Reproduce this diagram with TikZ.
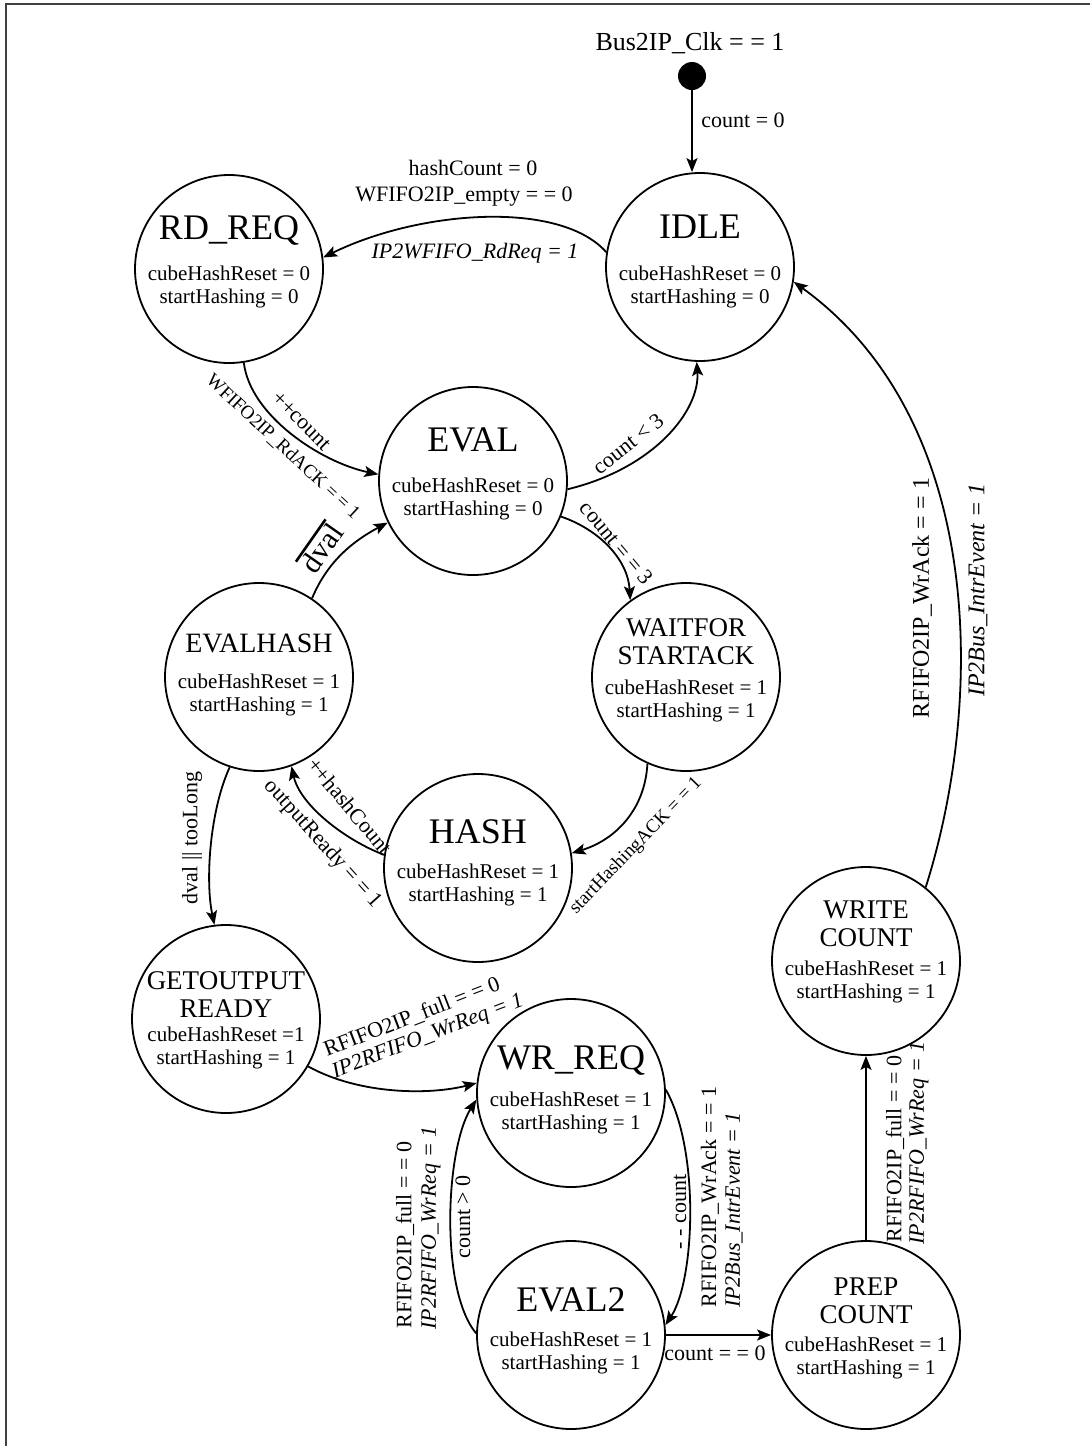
\documentclass[tikz,border=0pt]{standalone}
\usepackage{fontspec}
\setmainfont{Liberation Serif}
\usetikzlibrary{arrows.meta}
\newcommand\fsz[2]{\fontsize{#1pt}{#2pt}\selectfont}
\newcommand\thickbar[1]{\vbox{\hrule height 2.6pt\kern 1.5pt\hbox{#1}}}
\tikzset{
  state/.style={circle, draw, line width=1.8pt, minimum size=188pt, inner sep=0pt},
  nm/.style={font=\fsz{36}{40}, inner sep=0pt},
  nmtwo/.style={font=\fsz{27}{28}, align=center, inner sep=0pt},
  body/.style={font=\fsz{21}{23}, align=center, inner sep=0pt},
  lab/.style={font=\fsz{22}{24}, inner sep=0pt},
  ilab/.style={font=\fsz{22}{24}\itshape, inner sep=0pt},
  conn/.style={line width=1.8pt, -{Stealth[length=14pt,width=11pt,inset=3pt]}},
}
\begin{document}
\begin{tikzpicture}[x=1pt,y=-1pt]
\useasboundingbox (0,0) rectangle (1090,1446);
\fill[white] (0,0) rectangle (1090,1446);
\draw[line width=2.5pt, black!75] (6,1446) -- (6,4) -- (1090,4);

% initial
\node[font=\fsz{26}{28}, inner sep=0pt] (clk) at (690,43) {Bus2IP\_Clk = = 1};
\node[circle, fill=black, minimum size=28pt, inner sep=0pt] (dot) at (692,76) {};

% states
\node[state] (idle) at (700,267) {};
\node[nm] (idle-n) at (700,227) {IDLE};
\node[body] (idle-b) at (700,287) {cubeHashReset = 0\\startHashing = 0};

\node[state] (rdreq) at (229,269) {};
\node[nm] (rdreq-n) at (229,230) {RD\_REQ};
\node[body] (rdreq-b) at (229,287) {cubeHashReset = 0\\startHashing = 0};

\node[state] (eval) at (473,481) {};
\node[nm] (eval-n) at (473,440) {EVAL};
\node[body] (eval-b) at (473,499) {cubeHashReset = 0\\startHashing = 0};

\node[state] (evalhash) at (259,677) {};
\node[font=\fsz{28}{30}, inner sep=0pt] (evalhash-n) at (259,643) {EVALHASH};
\node[body] (evalhash-b) at (259,695) {cubeHashReset = 1\\startHashing = 1};

\node[state] (waitfor) at (686,677) {};
\node[nmtwo] (waitfor-n) at (686,642) {WAITFOR\\STARTACK};
\node[body] (waitfor-b) at (686,701) {cubeHashReset = 1\\startHashing = 1};

\node[state] (hash) at (478,868) {};
\node[nm] (hash-n) at (478,832) {HASH};
\node[body] (hash-b) at (478,885) {cubeHashReset = 1\\startHashing = 1};

\node[state] (getout) at (226,1019) {};
\node[nmtwo] (getout-n) at (226,995) {GETOUTPUT\\READY};
\node[body] (getout-b) at (226,1048) {cubeHashReset =1\\startHashing = 1};

\node[state] (wrreq) at (571,1093) {};
\node[nm] (wrreq-n) at (571,1060) {WR\_REQ};
\node[body] (wrreq-b) at (571,1113) {cubeHashReset = 1\\startHashing = 1};

\node[state] (evaltwo) at (571,1335) {};
\node[nm] (evaltwo-n) at (571,1300) {EVAL2};
\node[body] (evaltwo-b) at (571,1353) {cubeHashReset = 1\\startHashing = 1};

\node[state] (prep) at (866,1335) {};
\node[nmtwo] (prep-n) at (866,1301) {PREP\\COUNT};
\node[body] (prep-b) at (866,1358) {cubeHashReset = 1\\startHashing = 1};

\node[state] (writec) at (866,961) {};
\node[nmtwo] (writec-n) at (866,924) {WRITE\\COUNT};
\node[body] (writec-b) at (866,982) {cubeHashReset = 1\\startHashing = 1};

% connectors
\draw[conn] (dot) -- (dot |- idle.north);
\node[lab] (l-count0) at (743,120) {count = 0};

\draw[conn] (idle.171) .. controls (560,200) and (420,210) .. (rdreq.7);
\node[lab] (l-hc) at (473,168) {hashCount = 0};
\node[lab] (l-we) at (464,197) {WFIFO2IP\_empty = = 0};
\node[ilab] (l-rr) at (475,253) {IP2WFIFO\_RdReq = 1};

\draw[conn] (rdreq.-81) .. controls (250,415) and (320,462) .. (eval.176);
\node[lab, rotate=-45] (l-pc) at (301,421) {++count};
\node[font=\fsz{19}{21}, inner sep=0pt, rotate=-43] (l-ack) at (283,447) {WFIFO2IP\_RdACK = = 1};

\draw[conn] (eval.-5) .. controls (655,468) and (700,410) .. (idle.-92);
\node[lab, rotate=38] (l-lt3) at (628,444) {count < 3};

\draw[conn] (eval.-22) .. controls (600,530) and (628,560) .. (waitfor.126);
\node[lab, rotate=-50] (l-eq3) at (617,543) {count = = 3};

\draw[conn] (evalhash.56) .. controls (328,560) and (355,540) .. (eval.206);
\node[font=\fsz{30}{32}, inner sep=0pt, rotate=55] (l-dval) at (320,547) {\thickbar{dval}};

\draw[conn] (evalhash.-108) .. controls (210,810) and (205,880) .. (getout.97);
\node[lab, rotate=90] (l-dt) at (192,838) {dval || tooLong};

\draw[conn] (hash.172) .. controls (345,840) and (300,805) .. (evalhash.-70);
\node[lab, rotate=-50] (l-hc2) at (350,806) {++hashCount};
\node[lab, rotate=-48] (l-or) at (323,844) {outputReady = = 1};

\draw[conn] (waitfor.-114) .. controls (645,810) and (615,840) .. (hash.9);
\node[font=\fsz{19}{21}, inner sep=0pt, rotate=46] (l-sha) at (636,846) {startHashingACK = = 1};

\draw[conn] (getout.-30) .. controls (360,1095) and (430,1095) .. (wrreq.174);
\node[lab, rotate=21] (l-f1) at (412,1017) {RFIFO2IP\_full = = 0};
\node[ilab, rotate=21] (l-w1) at (428,1037) {IP2RFIFO\_WrReq = 1};

\draw[conn] (evaltwo.179) .. controls (440,1290) and (445,1150) .. (wrreq.184);
\node[lab, rotate=90] (l-f2) at (405,1235) {RFIFO2IP\_full = = 0};
\node[ilab, rotate=90] (l-w2) at (431,1228) {IP2RFIFO\_WrReq = 1};
\node[lab, rotate=90] (l-gt0) at (463,1217) {count > 0};

\draw[conn] (wrreq.2) .. controls (700,1150) and (695,1280) .. (evaltwo.6);
\node[lab, rotate=90] (l-dc) at (680,1212) {- - count};
\node[lab, rotate=90] (l-wa1) at (710,1197) {RFIFO2IP\_WrAck = = 1};
\node[ilab, rotate=90] (l-ie1) at (734,1210) {IP2Bus\_IntrEvent = 1};

\draw[conn] (evaltwo.east) -- (prep.west);
\node[lab] (l-eq0) at (715,1353) {count = = 0};

\draw[conn] (prep.north) -- (writec.south);
\node[lab, rotate=90] (l-f3) at (895,1149) {RFIFO2IP\_full = = 0};
\node[ilab, rotate=90] (l-w3) at (919,1143) {IP2RFIFO\_WrReq = 1};

\draw[conn] (writec.51) .. controls (985,700) and (985,420) .. (idle.-9);
\node[font=\fsz{24}{26}, inner sep=0pt, rotate=90] (l-wa2) at (922,598) {RFIFO2IP\_WrAck = = 1};
\node[font=\fsz{24}{26}\itshape, inner sep=0pt, rotate=90] (l-ie2) at (978,590) {IP2Bus\_IntrEvent = 1};
\end{tikzpicture}
\end{document}
